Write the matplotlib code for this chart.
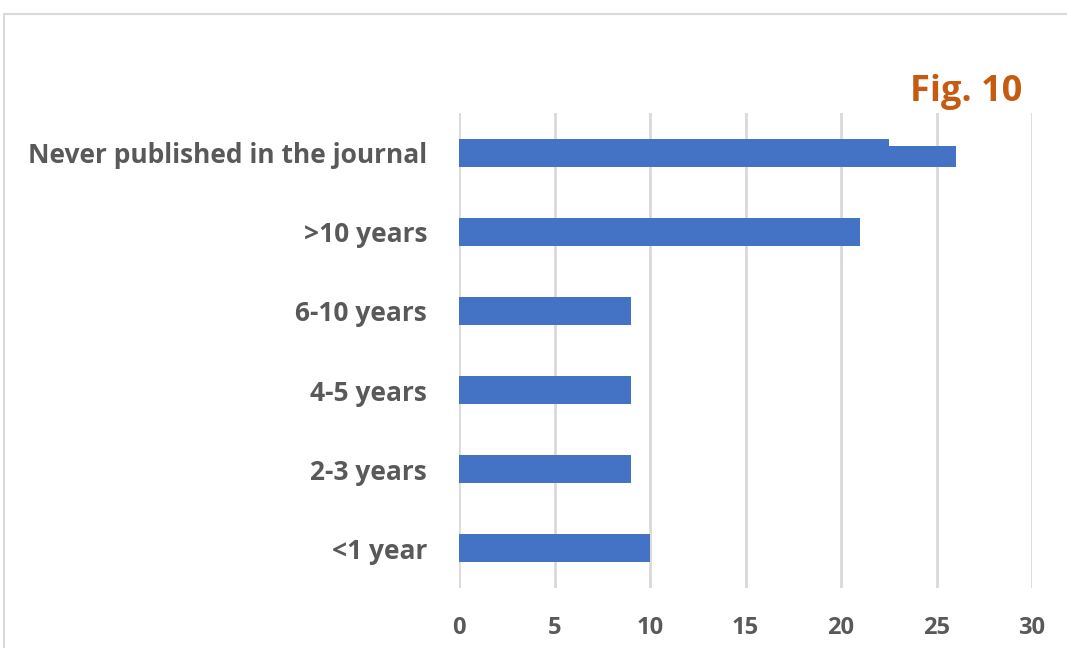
import matplotlib
matplotlib.use("Agg")
import matplotlib.pyplot as plt
from matplotlib.patches import Rectangle

# Data
categories = ["<1 year", "2-3 years", "4-5 years", "6-10 years", ">10 years",
              "Never published in the journal"]
counts = [10, 9, 9, 9, 21, 22.5]
# narrower extension drawn on the last bar
ext_start = 22.5
ext_end = 26
x_ticks = [0, 5, 10, 15, 20, 25, 30]

plt.rcParams["font.family"] = ["Open Sans", "DejaVu Sans"]

W, H = 1067, 648
fig = plt.figure(figsize=(W / 100, H / 100), dpi=100)
ax = fig.add_axes([459 / W, 1 - 588 / H, (1032 - 459) / W, (588 - 113) / H])

bar_color = "#4472C4"
ypos = list(range(len(categories)))
bar_h = 0.355
ax.barh(ypos, counts, height=bar_h, color=bar_color, zorder=3)

# extension on the top bar: bottom-aligned, slightly thinner
ext_h = 21 / 79.2
top = ypos[-1]
ax.barh(top - bar_h / 2 + ext_h / 2, ext_end - ext_start, left=ext_start,
        height=ext_h, color=bar_color, zorder=3)

ax.set_xlim(0, 30)
ax.set_ylim(-0.5, 5.5)
ax.set_xticks(x_ticks)
ax.set_yticks(ypos)
ax.set_yticklabels(categories)
ax.xaxis.grid(True, color="#d9d9d9", linewidth=2, zorder=0)
ax.yaxis.grid(False)
for s in ax.spines.values():
    s.set_visible(False)
ax.tick_params(axis="both", length=0, labelcolor="#595959")
ax.tick_params(axis="y", pad=23, labelsize=19)
ax.tick_params(axis="x", pad=20, labelsize=17)
for lbl in ax.get_xticklabels() + ax.get_yticklabels():
    lbl.set_fontweight("bold")

fig.text(1022 / W, 1 - 92 / H, "Fig. 10", ha="right", va="center",
         fontsize=26, fontweight="bold", color="#C55A11")

# outer chart frame
fig.patches.append(Rectangle((3.5 / W, -0.2), 1.5, 1.2 - 13.5 / H,
                             transform=fig.transFigure, fill=False,
                             edgecolor="#d9d9d9", linewidth=1.5))

fig.savefig("out.png", dpi=100)
